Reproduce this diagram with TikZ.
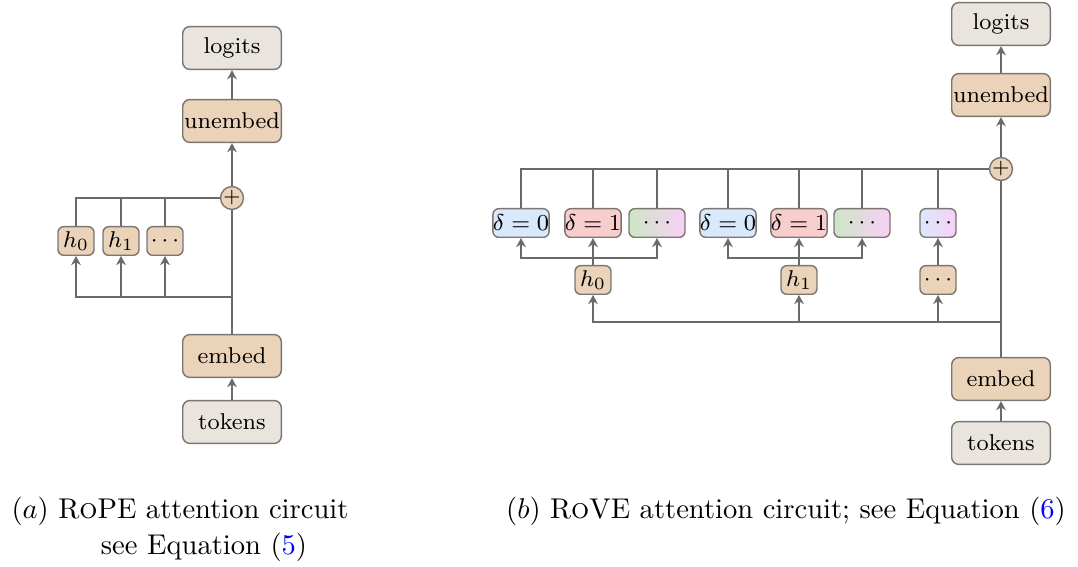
\documentclass[tikz,border=0pt]{standalone}
\usepackage{xcolor}
\usetikzlibrary{arrows.meta}

\definecolor{ioFill}{HTML}{EAE4DE}
\definecolor{embFill}{HTML}{EBD3BA}
\definecolor{boxLine}{HTML}{7C7671}
\definecolor{wire}{HTML}{6A6A6A}
\definecolor{dBlue}{HTML}{DAE8FC}
\definecolor{dRed}{HTML}{F8CECC}
\definecolor{dGreen}{HTML}{CDE6C6}
\definecolor{dPink}{HTML}{F8D0F6}

\begin{document}
\begin{tikzpicture}[
		x=0.35pt, y=-0.35pt,
		>={Stealth[length=3.2pt,width=3.4pt]},
		every node/.style={font=\footnotesize},
		block/.style={draw=boxLine, line width=0.5pt, rounded corners=2.5pt,
				minimum width=34.5pt, minimum height=15pt, inner sep=0pt},
		io/.style={block, fill=ioFill},
		emb/.style={block, fill=embFill},
		headbox/.style={draw=boxLine, line width=0.5pt, rounded corners=2pt,
				fill=embFill, minimum width=12.6pt, minimum height=10pt, inner sep=0pt},
		deltabox/.style={draw=boxLine, line width=0.5pt, rounded corners=2pt,
				minimum width=19.6pt, minimum height=10pt, inner sep=0pt},
		sumnode/.style={circle, draw=boxLine, line width=0.5pt, fill=embFill,
				minimum size=7.6pt, inner sep=0pt, font=\scriptsize},
		wire/.style={draw=wire, line width=0.7pt},
		arr/.style={wire, ->},
		caption/.style={font=\normalsize, anchor=base, inner sep=0pt},
	]
	\useasboundingbox (0,0) rectangle (1078,567);

	% (a) one head per row
	\node[io] (logitsA) at (232,48) {logits};
	\node[emb] (unembedA) at (232,121) {unembed};
	\node[sumnode] (sumA) at (232,198) {$+$};
	\node[headbox] (hA0) at (76,241) {$h_0$};
	\node[headbox] (hA1) at (121,241) {$h_1$};
	\node[headbox] (hA2) at (165,241) {$\cdots$};
	\node[emb] (embedA) at (232,356) {embed};
	\node[io] (tokensA) at (232,422) {tokens};
	\coordinate (busA) at (232,297);

	\draw[arr] (tokensA) -- (embedA);
	\draw[wire] (embedA) -- (sumA);
	\draw[arr] (sumA) -- (unembedA);
	\draw[arr] (unembedA) -- (logitsA);
	\draw[wire] (sumA) -| (hA0);
	\foreach \h in {hA1,hA2} {
			\draw[wire] (\h) -- (\h |- sumA);
		}
	\draw[arr] (busA) -| (hA0);
	\foreach \h in {hA1,hA2} {
			\draw[arr] (\h |- busA) -- (\h);
		}

	% (b) each head fans out over offsets
	\node[io] (logitsB) at (1001,24) {logits};
	\node[emb] (unembedB) at (1001,95) {unembed};
	\node[sumnode] (sumB) at (1001,169) {$+$};
	\node[emb] (embedB) at (1001,379) {embed};
	\node[io] (tokensB) at (1001,443) {tokens};

	\node[deltabox, fill=dBlue] (d00) at (521,223) {$\delta=0$};
	\node[deltabox, fill=dRed] (d01) at (593,223) {$\delta=1$};
	\node[deltabox, left color=dGreen, right color=dPink] (d02) at (657,223) {$\cdots$};
	\node[deltabox, fill=dBlue] (d10) at (728,223) {$\delta=0$};
	\node[deltabox, fill=dRed] (d11) at (799,223) {$\delta=1$};
	\node[deltabox, left color=dGreen, right color=dPink] (d12) at (862,223) {$\cdots$};
	\node[headbox, minimum width=12.6pt, left color=dBlue, right color=dPink] (d20) at (938,223) {$\cdots$};

	\node[headbox] (hB0) at (593,280) {$h_0$};
	\node[headbox] (hB1) at (799,280) {$h_1$};
	\node[headbox] (hB2) at (938,280) {$\cdots$};
	\coordinate (fan0) at (593,258);
	\coordinate (fan1) at (799,258);
	\coordinate (busB) at (1001,322);

	\draw[arr] (tokensB) -- (embedB);
	\draw[wire] (embedB) -- (sumB);
	\draw[arr] (sumB) -- (unembedB);
	\draw[arr] (unembedB) -- (logitsB);

	\draw[wire] (sumB) -| (d00);
	\foreach \d in {d01,d02,d10,d11,d12,d20} {
			\draw[wire] (\d) -- (\d |- sumB);
		}

	\draw[arr] (hB0) -- (d01);
	\draw[arr] (fan0) -| (d00);
	\draw[arr] (fan0) -| (d02);
	\draw[arr] (hB1) -- (d11);
	\draw[arr] (fan1) -| (d10);
	\draw[arr] (fan1) -| (d12);
	\draw[arr] (hB2) -- (d20);

	\draw[arr] (busB) -| (hB0);
	\foreach \h in {hB1,hB2} {
			\draw[arr] (\h |- busB) -- (\h);
		}

	% sub-captions
	\node[caption] (capA) at (180,519) {$(a)$ R\textsc{o}PE attention circuit};
	\node[caption] (capA2) at (204,555) {see Equation (\textcolor{blue}{5})};
	\node[caption] (capB) at (786,519) {$(b)$ R\textsc{o}VE attention circuit; see Equation (\textcolor{blue}{6})};
\end{tikzpicture}
\end{document}
